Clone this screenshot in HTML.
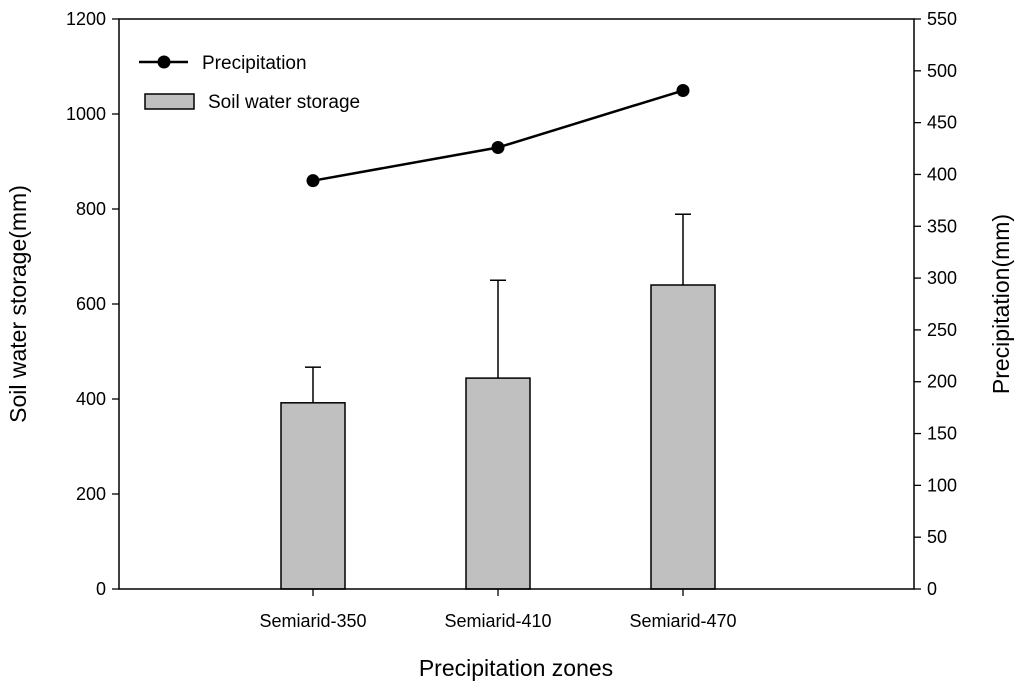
<!DOCTYPE html>
<html><head><meta charset="utf-8"><style>
body{margin:0;background:#fff}
svg text{font-family:"Liberation Sans",Arial,sans-serif;fill:#000}
</style></head><body>
<svg id="c" width="1024" height="694">
<g id="g"></g>
</svg>
<script>
const categories=["Semiarid-350","Semiarid-410","Semiarid-470"];
const storage=[392,444,640];
const storageErr=[75,206,149];
const precip=[394,426,481];
const leftTicks=[0,200,400,600,800,1000,1200];
const rightTicks=[0,50,100,150,200,250,300,350,400,450,500,550];
const L=119,R=914,T=19,B=589;
const yL=v=>B-(v/1200)*(B-T);
const yR=v=>B-(v/550)*(B-T);
const xC=i=>313+185*i;
const NS="http://www.w3.org/2000/svg";
const g=document.getElementById('g');
function mk(t,a,txt){const e=document.createElementNS(NS,t);for(const k in a)e.setAttribute(k,a[k]);if(txt!=null)e.textContent=txt;g.appendChild(e);return e;}
storage.forEach((v,i)=>{
 const x=xC(i);
 const eb=mk('line',{x1:x,x2:x,y1:yL(v),y2:yL(v+storageErr[i]),stroke:'#000','stroke-width':1.5});
 
 
 const cap=mk('line',{x1:x-8,x2:x+8,y1:yL(v+storageErr[i]),y2:yL(v+storageErr[i]),stroke:'#000','stroke-width':1.5});
 
 
 const r=mk('rect',{x:x-32,y:yL(v),width:64,height:B-yL(v),fill:'#c0c0c0',stroke:'#000','stroke-width':1.5});
 
 
});
const fr=mk('path',{d:`M${L},${T}H${R}V${B}H${L}Z`,fill:'none',stroke:'#000','stroke-width':1.5});


leftTicks.forEach(v=>{
 mk('line',{x1:L-7,x2:L,y1:yL(v),y2:yL(v),stroke:'#000','stroke-width':1.3});
 const t=mk('text',{x:L-13,y:yL(v)+6,'text-anchor':'end','font-size':18},v);
 
 
});
rightTicks.forEach(v=>{
 mk('line',{x1:R,x2:R+7,y1:yR(v),y2:yR(v),stroke:'#000','stroke-width':1.3});
 const t=mk('text',{x:R+13,y:yR(v)+6,'font-size':18},v);
 
 
});
categories.forEach((c,i)=>{
 mk('line',{x1:xC(i),x2:xC(i),y1:B,y2:B+7,stroke:'#000','stroke-width':1.3});
 const t=mk('text',{x:xC(i),y:B+38,'text-anchor':'middle','font-size':18},c);
 
 
});
const pl=mk('polyline',{points:precip.map((v,i)=>xC(i)+','+yR(v)).join(' '),fill:'none',stroke:'#000','stroke-width':2.5});


precip.forEach((v,i)=>{
 const c=mk('circle',{cx:xC(i),cy:yR(v),r:6.5,fill:'#000'});
 
 
});
mk('line',{x1:139,x2:188,y1:62,y2:62,stroke:'#000','stroke-width':2.5});
mk('circle',{cx:164,cy:62,r:6.5,fill:'#000'});
const l1=mk('text',{x:202,y:69,'font-size':19},'Precipitation');


mk('rect',{x:145,y:94,width:49,height:15,fill:'#c0c0c0',stroke:'#000','stroke-width':1.5});
const l2=mk('text',{x:208,y:108,'font-size':19},'Soil water storage');


const xt=mk('text',{x:516,y:676,'text-anchor':'middle','font-size':23},'Precipitation zones');


const yt=mk('text',{x:0,y:0,'text-anchor':'middle','font-size':23,transform:`translate(26,${(T+B)/2}) rotate(-90)`},'Soil water storage(mm)');


const yt2=mk('text',{x:0,y:0,'text-anchor':'middle','font-size':23,transform:`translate(1009,${(T+B)/2}) rotate(-90)`},'Precipitation(mm)');


</script>
</body></html>
